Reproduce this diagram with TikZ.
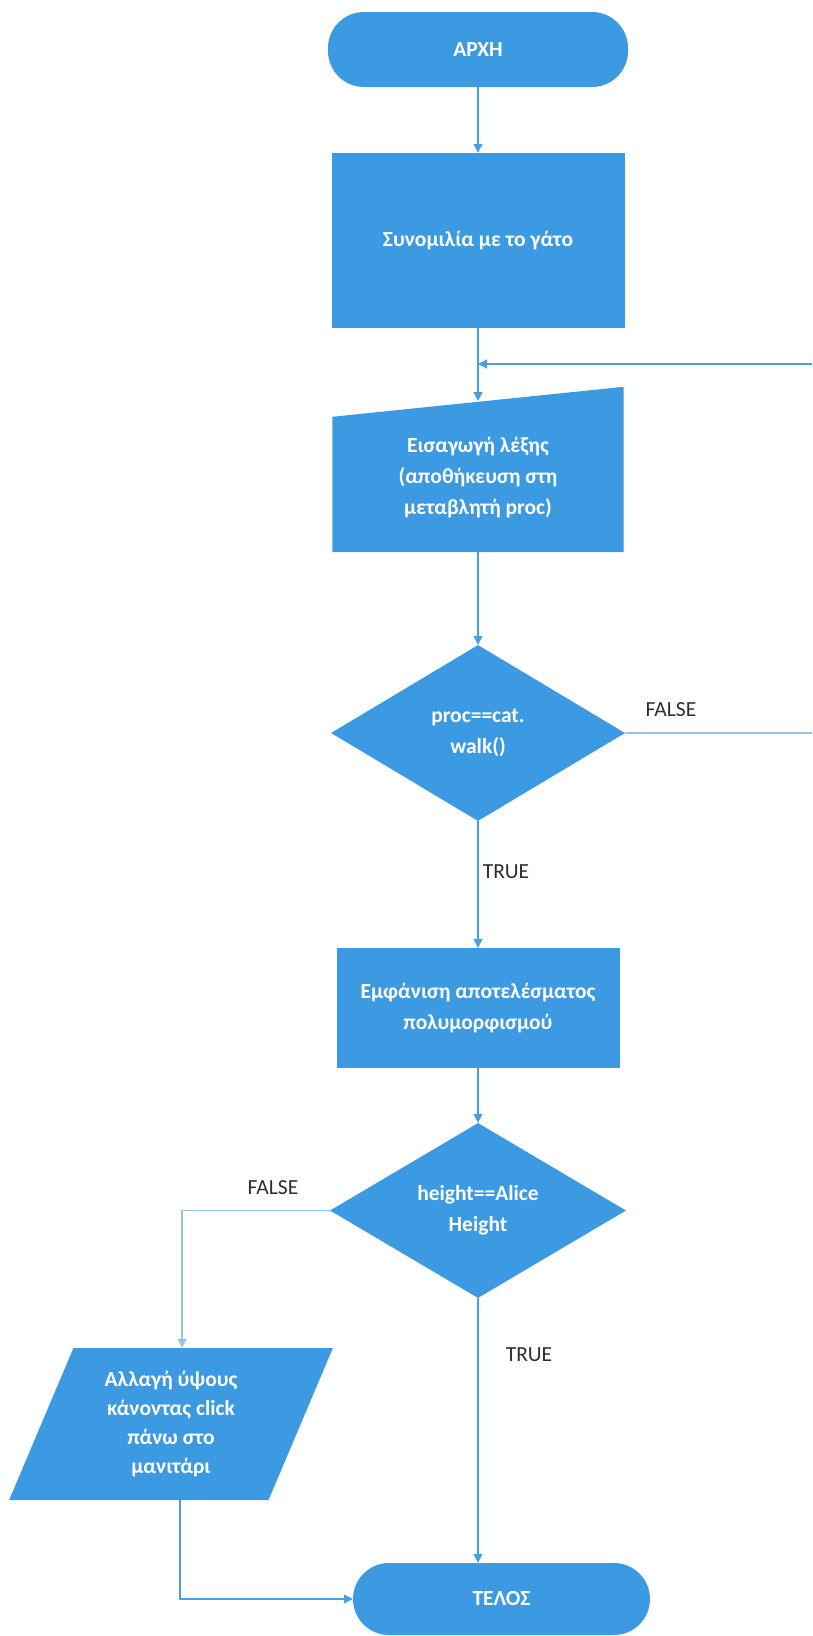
\documentclass[tikz,border=0pt]{standalone}
\usepackage{fontspec}
\setmainfont{Carlito}
\usetikzlibrary{shapes.geometric,arrows.meta,backgrounds}
\definecolor{flowblue}{RGB}{59,154,225}
\definecolor{lineblue}{RGB}{72,158,226}
\definecolor{paleblue}{RGB}{150,196,232}
\definecolor{labelgray}{RGB}{45,45,45}
\begin{document}
\begin{tikzpicture}[x=1pt,y=-1pt,
  box/.style={fill=flowblue,text=white,font=\fontsize{21.5}{31}\selectfont\bfseries,align=center,inner sep=0pt},
  term/.style={box,rounded corners=36pt,minimum width=300pt,minimum height=75pt},
  decision/.style={box,diamond,minimum width=294pt,minimum height=176pt},
  lbl/.style={text=labelgray,font=\fontsize{21.5}{26}\selectfont,inner sep=0pt},
  flow/.style={lineblue,line width=1.3pt,-{Triangle[length=9pt,width=9pt]}},
  falseline/.style={paleblue,line width=1.3pt}]
\useasboundingbox (0,0) rectangle (812,1636);
\node[term] (start) at (478,49.5) {ΑΡΧΗ};
\node[box,minimum width=293pt,minimum height=175pt] (talk) at (478,240.5) {Συνομιλία με το γάτο};
\node[box,fill=none,minimum width=291pt,minimum height=148pt] (input) at (478,478) {Εισαγωγή λέξης\\(αποθήκευση στη\\μεταβλητή proc)};
\begin{scope}[on background layer]
\fill[flowblue] (input.south west) -- (input.south east) -- ([yshift=17pt]input.north east) -- ([yshift=-13pt]input.north west) -- cycle;
\end{scope}
\node[decision] (test1) at (478,733) {proc==cat.\\walk()};
\node[box,minimum width=283pt,minimum height=120pt] (result) at (478,1008) {Εμφάνιση αποτελέσματος\\πολυμορφισμού};
\node[decision,minimum width=296pt,minimum height=175pt] (test2) at (478,1210.5) {height==Alice\\Height};
\node[box,trapezium,trapezium left angle=67.5,trapezium right angle=112.5,trapezium stretches=true,minimum width=324pt,minimum height=152pt,font=\fontsize{21.5}{29}\selectfont\bfseries] (change) at (171,1424) {Αλλαγή ύψους\\κάνοντας click\\πάνω στο\\μανιτάρι};
\node[term,minimum width=297pt,minimum height=72pt] (end) at (501.5,1599) {ΤΕΛΟΣ};
\node[lbl] (false1) at (671,710) {FALSE};
\node[lbl] (true1) at (506,872) {TRUE};
\node[lbl] (false2) at (273,1188) {FALSE};
\node[lbl] (true2) at (529,1355) {TRUE};
\coordinate (merge) at (478,364);
\coordinate (intop) at (478,401);
\coordinate (loopin) at (812,364);
\coordinate (loopout) at (812,733);
\draw[flow] (start) -- (talk);
\draw[flow] (talk.south) -- (intop);
\draw[flow] (loopin) -- (merge);
\draw[flow] (input) -- (test1);
\draw[falseline] (test1.east) -- (loopout);
\draw[flow] (test1) -- (result);
\draw[flow] (result) -- (test2);
\draw[flow,paleblue] (test2.west) -| ([xshift=11pt]change.north);
\draw[flow] (test2.south) -- (test2.south |- end.north);
\draw[flow] ([xshift=9pt]change.south) |- (end.west);
\end{tikzpicture}
\end{document}
